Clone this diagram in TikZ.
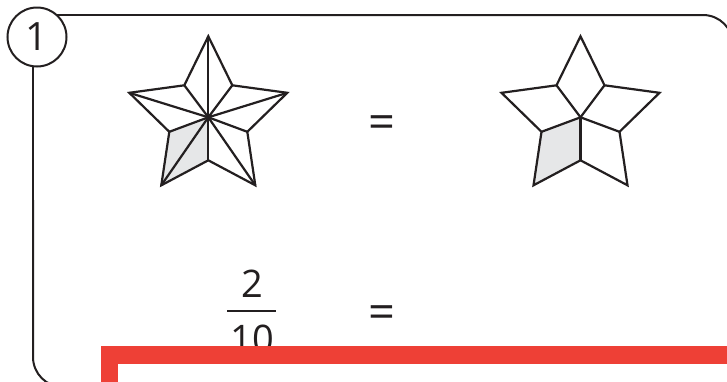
\documentclass[tikz,border=0pt]{standalone}
\usepackage{fontspec}
\setmainfont{Open Sans}
\definecolor{ink}{HTML}{231F20}
\definecolor{shadegray}{HTML}{E6E7E8}
\definecolor{redc}{HTML}{EE4036}
\newcommand\starpoints[1]{%
  \coordinate (#1c) at (0,0);
  \coordinate (#1T) at (0,-81);
  \coordinate (#1UL) at (-24,-32);
  \coordinate (#1L) at (-79,-24.5);
  \coordinate (#1LL) at (-39,14.5);
  \coordinate (#1BL) at (-47,68);
  \coordinate (#1B) at (0,43);
  \coordinate (#1BR) at (47,68);
  \coordinate (#1LR) at (39,14.5);
  \coordinate (#1R) at (79,-24.5);
  \coordinate (#1UR) at (24,-32);
}
\begin{document}
\begin{tikzpicture}[x=1pt,y=-1pt,line join=miter,
  ln/.style={draw=ink,line width=2.2pt},
  frameline/.style={draw=ink,line width=2pt},
  lbl/.style={font=\fontsize{38}{38}\selectfont,text=ink,inner sep=0pt,anchor=base},
  eqlbl/.style={font=\fontsize{47}{47}\selectfont,text=ink,inner sep=0pt,anchor=base}]
\useasboundingbox (0,0) rectangle (727,381);
\clip (0,0) rectangle (727,381);
% frame
\draw[frameline] (33,200) -- (33,15) -- (300,15);
\draw[frameline,rounded corners=30] (300,15) -- (733,15) -- (733,387) -- (33,387) -- (33,200);
% number circle
\node[circle,draw=ink,line width=2pt,fill=white,minimum size=59pt,inner sep=0pt,
      font=\fontsize{39}{39}\selectfont,text=ink] (num) at (37,37) {1};
% star 1
\begin{scope}[shift={(208.3,117.3)}]
  \starpoints{a}
\end{scope}
\fill[shadegray] (ac) -- (aLL) -- (aBL) -- (aB) -- cycle;
\foreach \p in {T,UR,R,LR,BR,B,BL,LL,L,UL} \draw[ln] (ac) -- (a\p);
\draw[ln] (aT) -- (aUR) -- (aR) -- (aLR) -- (aBR) -- (aB) -- (aBL) -- (aLL) -- (aL) -- (aUL) -- cycle;
% star 2
\begin{scope}[shift={(580.5,117.3)}]
  \starpoints{b}
\end{scope}
\fill[shadegray] (bc) -- (bLL) -- (bBL) -- (bB) -- cycle;
\foreach \p in {UR,LR,B,LL,UL} \draw[ln] (bc) -- (b\p);
\draw[ln] (bT) -- (bUR) -- (bR) -- (bLR) -- (bBR) -- (bB) -- (bBL) -- (bLL) -- (bL) -- (bUL) -- cycle;
% equals
\node[eqlbl] (eq1) at (382,138.5) {=};
\node[eqlbl] (eq2) at (382,328.5) {=};
% fraction
\node[lbl] (two) at (252,297) {2};
\coordinate (barL) at (227,311);
\coordinate (barR) at (276,311);
\draw[draw=ink,line width=2.6pt] (barL) -- (barR);
\node[lbl] (ten) at (252,352) {10};
% red box
\fill[redc] (101,346) rectangle (740,400);
\fill[white] (118,364) rectangle (740,400);
\end{tikzpicture}
\end{document}
